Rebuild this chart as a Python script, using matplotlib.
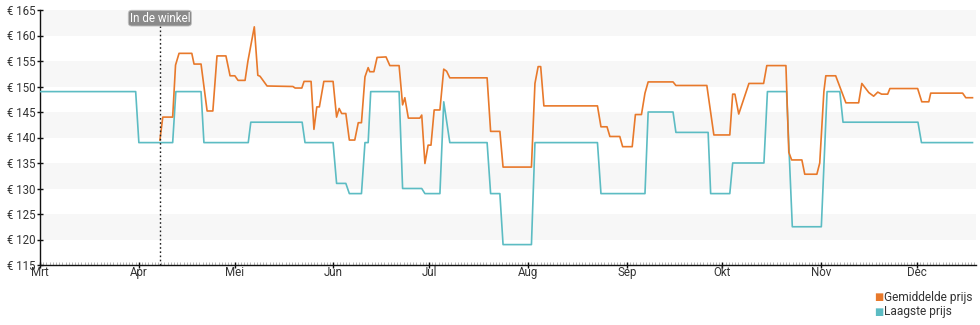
import matplotlib
matplotlib.use('Agg')
import matplotlib.pyplot as plt
import numpy as np

plt.rcParams['font.family'] = ['Roboto', 'DejaVu Sans']

# dagen sinds 1 maart
maand_dagen = [0, 31, 61, 92, 122, 153, 184, 214, 245, 275]
maand_labels = ['Mrt', 'Apr', 'Mei', 'Jun', 'Jul', 'Aug', 'Sep', 'Okt', 'Nov', 'Dec']

laagste_dag = [0, 30, 31, 41.6, 42.6, 50.5, 51.4, 65.3, 66.1, 82.2, 83.1, 91.9, 93,
               95.9, 97, 100.8, 101.9, 102.9, 103.7, 112.6, 113.7, 119.7, 120.7,
               125.4, 126.6, 128.5, 140.2, 141.3, 144.2, 145.2, 154.1, 155.2, 174.8,
               175.9, 189.7, 190.7, 198.5, 199.4, 209.5, 210.3, 216.3, 217.2, 227,
               228.1, 234.1, 235.9, 245, 246.8, 250.8, 251.8, 275.3, 276.4, 292.4]
laagste_prijs = [149, 149, 139, 139, 149, 149, 139, 139, 143, 143, 139, 139, 131,
                 131, 129, 129, 139, 139, 149, 149, 130, 130, 129,
                 129, 147, 139, 139, 129, 129, 119, 119, 139, 139,
                 129, 129, 145, 145, 141, 141, 129, 129, 135, 135,
                 149, 149, 122.5, 122.5, 149, 149, 143, 143, 139, 139]

gem_dag = [37.6, 38.5, 41.6, 42.5, 43.6, 47.6, 48.3, 50.5, 52.4, 54.2, 55.5, 58.3,
           59.6, 61.1, 62.1, 64.3, 65.2, 67.2, 68.3, 69, 71.2, 79.3, 80, 82.1, 82.8,
           85, 85.9, 86.8, 87.6, 89, 91.9, 93, 93.8, 94.6, 95.9, 97, 98.7, 99.8,
           100.8, 101.9, 102.9, 103.4, 104.7, 105.7, 108.5, 109.7, 112.6, 113.7,
           114.4, 115.5, 119.1, 119.7, 120.7, 121.7, 122.6, 123.6, 125.4, 126.6,
           127.5, 128.5, 140.2, 141.3, 144.2, 145.2, 154.1, 155.2, 156.2, 157, 158,
           174.8, 175.9, 177.8, 178.7, 181.8, 182.7, 185.7, 186.7, 188.6, 189.7,
           190.7, 198.5, 199.4, 209.1, 211.3, 216.3, 217.2, 217.9, 219.1, 222.3,
           226.9, 227.9, 233.9, 234.8, 235.7, 238.9, 239.8, 243.6, 244.5, 245.8,
           246.4, 249.5, 252.7, 256.7, 257.7, 259.9, 261.4, 262.7, 263.9, 265.8,
           266.5, 275.2, 276.5, 278.7, 279.3, 289.3, 290.3, 292.4]
gem_prijs = [139.5, 144, 144, 154.2, 156.5, 156.5, 154.4, 154.4, 145.2, 145.2, 156, 156,
             152.1, 152.1, 151.2, 151.2, 155, 161.7, 152.2, 152, 150.1, 150, 149.7, 149.7, 151,
             151, 141.6, 146, 146, 151, 151, 144, 145.7, 144.7, 144.7, 139.5, 139.5, 142.9,
             142.9, 151.9, 153.7, 152.9, 152.9, 155.7, 155.8, 154.1, 154.1, 146.4,
             147.8, 143.8, 143.8, 144.4, 134.9, 138.5, 138.5, 145.4, 145.4, 153.4,
             153, 151.7, 151.7, 141.2, 141.2, 134.2, 134.2, 150.6, 153.9, 153.9, 146.2,
             146.2, 142.1, 142.1, 140.2, 140.2, 138.2, 138.2, 144.5, 144.5, 148.7,
             150.9, 150.9, 150.2, 150.2, 140.5, 140.5, 148.5, 148.5, 144.6, 150.6,
             150.6, 154.1, 154.1, 137.1, 135.6, 135.6, 132.8, 132.8, 135, 149,
             152.1, 152.1, 146.8, 146.8, 150.6, 148.8, 148.1, 148.9, 148.5, 148.5,
             149.6, 149.6, 147, 147, 148.7, 148.7, 147.8, 147.8]

winkel_dag = 37.6
y_ticks = list(range(115, 170, 5))

oranje = '#e8792b'
blauw = '#5cbcc3'

fig = plt.figure(figsize=(9.8, 3.25), dpi=100)
ax = fig.add_axes([40 / 980, 1 - 265 / 325, 936 / 980, 255 / 325])

# grijze banden
for i in range(0, len(y_ticks) - 1, 2):
    ax.axhspan(y_ticks[i] + 5, y_ticks[i] + 10, color='#f7f7f7', zorder=0, lw=0)

ax.plot(laagste_dag, laagste_prijs, color=blauw, lw=1.2, zorder=3)
ax.plot(gem_dag, gem_prijs, color=oranje, lw=1.2, zorder=4)

ax.axvline(winkel_dag, color='#222222', lw=1, ls=(0, (1.2, 1.8)), zorder=5)
ax.text(winkel_dag, 163.4, 'In de winkel', ha='center', va='center', fontsize=8.4,
        color='white', zorder=6,
        bbox=dict(boxstyle='round,pad=0.12,rounding_size=0.3', fc='#8a8a8a', ec='#c4c4c4', lw=0.6))

ax.set_xlim(0, 293.5)
ax.set_ylim(115, 165)
ax.set_yticks(y_ticks)
ax.set_yticklabels(['€ %d' % v for v in y_ticks])
ax.set_xticks(maand_dagen)
ax.set_xticklabels(maand_labels)
ax.set_xticks(np.arange(0, 294, 1), minor=True)

for s in ['top', 'right']:
    ax.spines[s].set_visible(False)
for s in ['left', 'bottom']:
    ax.spines[s].set_color('#111111')
    ax.spines[s].set_linewidth(1)

ax.tick_params(axis='y', length=5, width=1, direction='inout', color='#111111', labelsize=8.3,
               labelcolor='#333333', pad=1)
ax.tick_params(axis='x', which='major', length=4, width=1, direction='inout', color='#111111',
               labelsize=8.3, labelcolor='#333333', pad=-1)
ax.tick_params(axis='x', which='minor', length=2, width=0.5, direction='in', color='#999999')

# legenda
fig.text(879 / 980, 1 - 297 / 325, '■', color=oranje, fontsize=7, ha='center', va='center',
         family=['DejaVu Sans'])
fig.text(884 / 980, 1 - 297 / 325, 'Gemiddelde prijs', color='#333333', fontsize=8.6,
         ha='left', va='center')
fig.text(879 / 980, 1 - 312 / 325, '■', color=blauw, fontsize=7, ha='center', va='center',
         family=['DejaVu Sans'])
fig.text(884 / 980, 1 - 312 / 325, 'Laagste prijs', color='#333333', fontsize=8.6,
         ha='left', va='center')

fig.savefig('out.png', dpi=100, facecolor='white')
